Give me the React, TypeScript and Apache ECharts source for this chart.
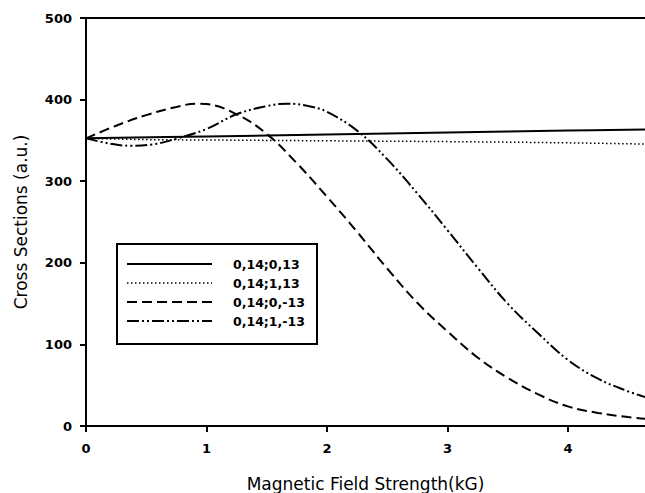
import React, { useEffect, useRef } from "react";
import * as echarts from "echarts";

// Magnetic field strength (kG) sample points and cross sections (a.u.)
const xSolid = [0, 1, 2, 3, 4, 4.64];
const ySolid = [352.5, 354.8, 357.2, 359.6, 362, 363.5];

const xDotted = [0, 0.5, 1, 2, 3, 4, 4.64];
const yDotted = [352.5, 351, 350.5, 349.5, 348.5, 347, 345.5];

const xDashed = [0, 0.25, 0.5, 0.75, 0.92, 1.0, 1.25, 1.5, 1.75, 2.0, 2.25, 2.5, 2.75, 3.0, 3.25, 3.5, 3.75, 4.0, 4.25, 4.5, 4.64];
const yDashed = [352.5, 368, 381, 391, 395, 394.5, 382, 358, 322, 281, 238, 193, 151, 116, 84, 59, 39, 24, 16, 11, 9];

const xDashDot = [0, 0.2, 0.37, 0.55, 0.75, 1.0, 1.25, 1.5, 1.67, 1.85, 2.0, 2.25, 2.5, 2.75, 3.0, 3.25, 3.5, 3.75, 4.0, 4.25, 4.5, 4.64];
const yDashDot = [352.5, 346, 343.5, 345, 352, 364, 382, 392, 395, 392, 385, 362, 327, 285, 240, 194, 150, 114, 81, 58, 42.5, 35.5];

const seriesNames = ["0,14;0,13", "0,14;1,13", "0,14;0,-13", "0,14;1,-13"];
const yTicks = { min: 0, max: 500, interval: 100 };
const xRange = { min: 0, max: 4.64, interval: 1 };

const FONT = "DejaVu Sans";

const dashes: (number[] | "solid")[] = ["solid", [1.5, 2.5], [10, 5], [12, 3, 2, 3, 2, 3]];
const widths = [2, 1.5, 2, 2];

function pairs(xs: number[], ys: number[]) {
  return xs.map((x, i) => [x, ys[i]]);
}

export default function App() {
  const ref = useRef<HTMLDivElement>(null);
  useEffect(() => {
    if (!ref.current) return;
    const chart = echarts.init(ref.current, undefined, { renderer: "svg" });
    const datas = [
      pairs(xSolid, ySolid),
      pairs(xDotted, yDotted),
      pairs(xDashed, yDashed),
      pairs(xDashDot, yDashDot),
    ];
    const legendX0 = 127;
    const legendX1 = 212;
    const legendYs = [264, 283, 302, 321];
    const legendGraphics: any[] = [
      {
        type: "rect",
        shape: { x: 117, y: 244, width: 200, height: 100 },
        style: { fill: "#fff", stroke: "#000", lineWidth: 2 },
        z: 100,
      },
    ];
    seriesNames.forEach((name, i) => {
      legendGraphics.push({
        type: "line",
        shape: { x1: legendX0, y1: legendYs[i], x2: legendX1, y2: legendYs[i] },
        style: {
          stroke: "#000",
          lineWidth: widths[i],
          lineDash: dashes[i] === "solid" ? null : dashes[i],
        },
        z: 101,
      });
      legendGraphics.push({
        type: "text",
        x: 233,
        y: legendYs[i],
        style: {
          text: name,
          font: `bold 12.5px "${FONT}"`,
          fill: "#000",
          textVerticalAlign: "middle",
          verticalAlign: "middle",
        },
        z: 101,
      });
    });

    chart.setOption({
      animation: false,
      backgroundColor: "#fff",
      grid: { left: 86, right: 0, top: 18, bottom: 67, containLabel: false, outerBoundsMode: "none" },
      xAxis: [
        {
          type: "value",
          min: xRange.min,
          max: xRange.max,
          interval: xRange.interval,
          name: "Magnetic Field Strength(kG)",
          nameLocation: "middle",
          nameGap: 49,
          nameTextStyle: { fontFamily: FONT, fontSize: 17, lineHeight: 17, color: "#000" },
          axisLine: { show: true, onZero: false, lineStyle: { color: "#000", width: 2 } },
          axisTick: { show: true, length: 6, lineStyle: { color: "#000", width: 2 } },
          axisLabel: {
            fontFamily: FONT,
            fontSize: 13,
            fontWeight: "bold",
            color: "#000",
            margin: 16,
            showMaxLabel: false,
          },
          splitLine: { show: false },
        },
        {
          type: "value",
          position: "top",
          min: xRange.min,
          max: xRange.max,
          axisLine: { show: true, onZero: false, lineStyle: { color: "#000", width: 2 } },
          axisTick: { show: false },
          axisLabel: { show: false },
          splitLine: { show: false },
        },
      ],
      yAxis: {
        type: "value",
        min: yTicks.min,
        max: yTicks.max,
        interval: yTicks.interval,
        name: "Cross Sections (a.u.)",
        nameLocation: "middle",
        nameGap: 57,
        nameTextStyle: { fontFamily: FONT, fontSize: 17, color: "#000" },
        axisLine: { show: true, onZero: false, lineStyle: { color: "#000", width: 2 } },
        axisTick: { show: true, length: 6, lineStyle: { color: "#000", width: 2 } },
        axisLabel: { fontFamily: FONT, fontSize: 13, fontWeight: "bold", color: "#000", margin: 14 },
        splitLine: { show: false },
      },
      series: seriesNames.map((name, i) => ({
        name,
        type: "line",
        xAxisIndex: 0,
        data: datas[i],
        smooth: 0.4,
        showSymbol: false,
        symbol: "none",
        lineStyle: {
          color: "#000",
          width: widths[i],
          type: dashes[i],
        },
        z: 2 + i,
      })),
      graphic: legendGraphics,
    });
    return () => chart.dispose();
  }, []);
  return (
    <div
      ref={ref}
      style={{ position: "fixed", left: 0, top: 0, width: 645, height: 493 }}
    />
  );
}
